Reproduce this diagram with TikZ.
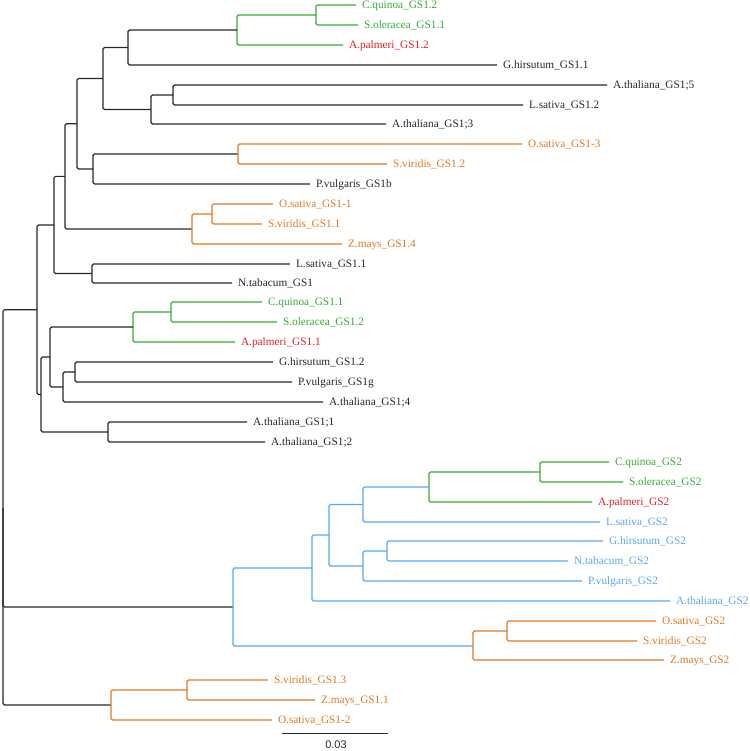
\documentclass[tikz,border=0pt]{standalone}
\usepackage{fontspec}
\setmainfont{Liberation Serif}
\newfontfamily\barfont{Liberation Sans}
\definecolor{tgreen}{RGB}{58,168,58}
\definecolor{tred}{RGB}{222,32,38}
\definecolor{torange}{RGB}{222,122,40}
\definecolor{tblue}{RGB}{90,168,238}
\definecolor{tblack}{RGB}{40,40,40}
\begin{document}
\begin{tikzpicture}[x=1pt,y=-1pt,line width=1.1pt,rounded corners=1.5pt,
  leaf/.style={anchor=west,inner xsep=5.5pt,inner ysep=0pt,text height=7.5pt,text depth=0pt,font=\fontsize{11.3}{12}\selectfont,text=tblack},
  bk/.style={draw=tblack},
  gr/.style={draw=tgreen},
  orr/.style={draw=torange},
  bl/.style={draw=tblue}]
\useasboundingbox (0,0) rectangle (749,751);
% leaves
\node[leaf,text=tgreen] (cq12) at (356,5) {C.quinoa\_GS1.2};
\node[leaf,text=tgreen] (so11) at (358,25) {S.oleracea\_GS1.1};
\node[leaf,text=tred] (ap12) at (343,45) {A.palmeri\_GS1.2};
\node[leaf] (gh11) at (497,65) {G.hirsutum\_GS1.1};
\node[leaf] (at5) at (607,85) {A.thaliana\_GS1;5};
\node[leaf] (ls12) at (523,105) {L.sativa\_GS1.2};
\node[leaf] (at3) at (386,124) {A.thaliana\_GS1;3};
\node[leaf,text=torange] (os13) at (522,144) {O.sativa\_GS1-3};
\node[leaf,text=torange] (sv12) at (387,164) {S.viridis\_GS1.2};
\node[leaf] (pv1b) at (310,184) {P.vulgaris\_GS1b};
\node[leaf,text=torange] (os11) at (273,204) {O.sativa\_GS1-1};
\node[leaf,text=torange] (sv11) at (262,224) {S.viridis\_GS1.1};
\node[leaf,text=torange] (zm14) at (342,244) {Z.mays\_GS1.4};
\node[leaf] (ls11) at (290,264) {L.sativa\_GS1.1};
\node[leaf] (nt1) at (232,283) {N.tabacum\_GS1};
\node[leaf,text=tgreen] (cq11) at (262,302) {C.quinoa\_GS1.1};
\node[leaf,text=tgreen] (so12) at (277,322) {S.oleracea\_GS1.2};
\node[leaf,text=tred] (ap11) at (235,342) {A.palmeri\_GS1.1};
\node[leaf] (gh12) at (273,362) {G.hirsutum\_GS1.2};
\node[leaf] (pv1g) at (292,382) {P.vulgaris\_GS1g};
\node[leaf] (at4) at (323,402) {A.thaliana\_GS1;4};
\node[leaf] (at1) at (247,422) {A.thaliana\_GS1;1};
\node[leaf] (at2) at (265,442) {A.thaliana\_GS1;2};
\node[leaf,text=tgreen] (cq2) at (609,462) {C.quinoa\_GS2};
\node[leaf,text=tgreen] (so2) at (623,482) {S.oleracea\_GS2};
\node[leaf,text=tred] (ap2) at (592,502) {A.palmeri\_GS2};
\node[leaf,text=tblue] (ls2) at (600,522) {L.sativa\_GS2};
\node[leaf,text=tblue] (gh2) at (603,541) {G.hirsutum\_GS2};
\node[leaf,text=tblue] (nt2) at (568,561) {N.tabacum\_GS2};
\node[leaf,text=tblue] (pv2) at (582,581) {P.vulgaris\_GS2};
\node[leaf,text=tblue] (atg2) at (670,601) {A.thaliana\_GS2};
\node[leaf,text=torange] (os2) at (656,621) {O.sativa\_GS2};
\node[leaf,text=torange] (sv2) at (637,641) {S.viridis\_GS2};
\node[leaf,text=torange] (zm2) at (664,660) {Z.mays\_GS2};
\node[leaf,text=torange] (sv13) at (268,680) {S.viridis\_GS1.3};
\node[leaf,text=torange] (zm11) at (315,700) {Z.mays\_GS1.1};
\node[leaf,text=torange] (os12) at (272,720) {O.sativa\_GS1-2};
% internal nodes
\coordinate (nA) at (316,15);
\coordinate (nB) at (237,30);
\coordinate (nC) at (128,47.5);
\coordinate (nD) at (173,95);
\coordinate (nE) at (151,109.5);
\coordinate (nF) at (103,78.5);
\coordinate (nG) at (238,154);
\coordinate (nH) at (93,169);
\coordinate (nI) at (77,123.75);
\coordinate (nJ) at (212,214);
\coordinate (nK) at (192,229);
\coordinate (nL) at (65,176.4);
\coordinate (nM) at (92,273.5);
\coordinate (nN) at (54,225);
\coordinate (nO) at (171,312);
\coordinate (nP) at (133,327);
\coordinate (nQ) at (75,372);
\coordinate (nR) at (63,387);
\coordinate (nS) at (50,357);
\coordinate (nT) at (108,432);
\coordinate (nU) at (41,394.5);
\coordinate (nV) at (37,309.7);
\coordinate (g1) at (540,472);
\coordinate (g2) at (429,487);
\coordinate (g3) at (363,504.5);
\coordinate (g4) at (387,551);
\coordinate (g5) at (363,566);
\coordinate (g6) at (329,535);
\coordinate (g7) at (312,568);
\coordinate (o1) at (507,631);
\coordinate (o2) at (473,646);
\coordinate (g8) at (233,607);
\coordinate (p1) at (187,690);
\coordinate (p2) at (111,705);
\coordinate (root) at (3,507.5);
% green edges
\foreach \a/\b in {nA/cq12.west,nA/so11.west,nB/nA,nB/ap12.west,nO/cq11.west,nO/so12.west,nP/nO,nP/ap11.west,g1/cq2.west,g1/so2.west,g2/g1,g2/ap2.west}
  \draw[gr] (\a) |- (\b);
% black edges
\foreach \a/\b in {nC/nB,nC/gh11.west,nD/at5.west,nD/ls12.west,nE/nD,nE/at3.west,nF/nC,nF/nE,nH/nG,nH/pv1b.west,nI/nF,nI/nH,nL/nI,nL/nK,nM/ls11.west,nM/nt1.west,nN/nL,nN/nM,nQ/gh12.west,nQ/pv1g.west,nR/nQ,nR/at4.west,nS/nP,nS/nR,nT/at1.west,nT/at2.west,nU/nS,nU/nT,nV/nN,nV/nU,root/nV,root/g8,root/p2}
  \draw[bk] (\a) |- (\b);
% orange edges
\foreach \a/\b in {nG/os13.west,nG/sv12.west,nJ/os11.west,nJ/sv11.west,nK/nJ,nK/zm14.west,o1/os2.west,o1/sv2.west,o2/o1,o2/zm2.west,p1/sv13.west,p1/zm11.west,p2/p1,p2/os12.west}
  \draw[orr] (\a) |- (\b);
% blue edges
\foreach \a/\b in {g3/g2,g3/ls2.west,g4/gh2.west,g4/nt2.west,g5/g4,g5/pv2.west,g6/g3,g6/g5,g7/g6,g7/atg2.west,g8/g7,g8/o2}
  \draw[bl] (\a) |- (\b);
% scale bar
\coordinate (sb1) at (282,733);
\coordinate (sb2) at (388,733);
\draw[bk,line width=1pt] (sb1) -- (sb2);
\node[font=\barfont\fontsize{11}{12}\selectfont,text=tblack,inner sep=0pt] (sbl) at (336,745) {0.03};
\end{tikzpicture}
\end{document}
